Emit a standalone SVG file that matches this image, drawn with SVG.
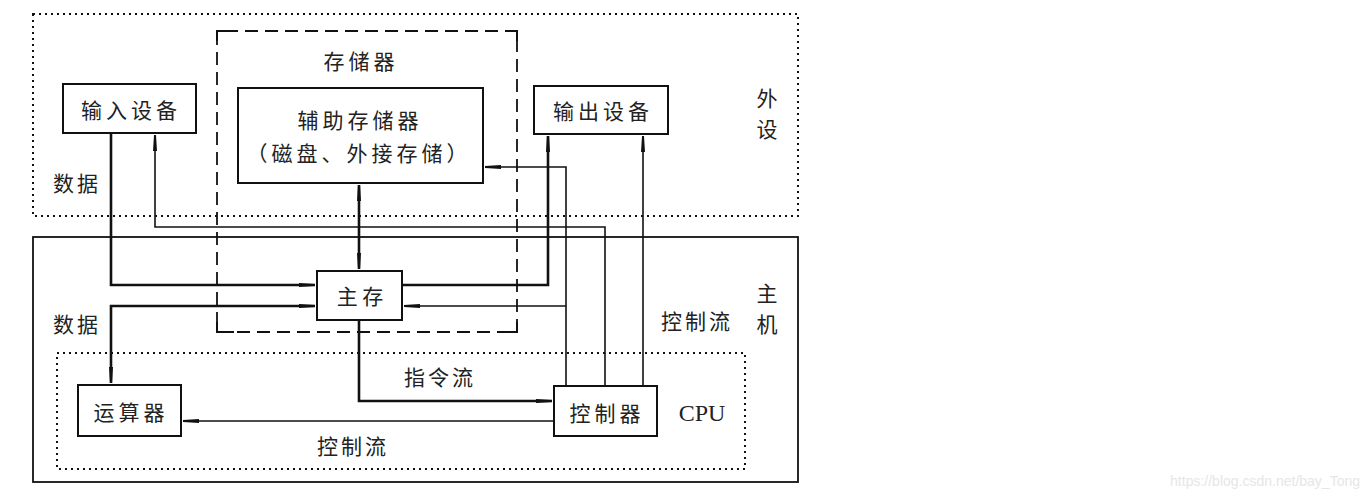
<svg xmlns="http://www.w3.org/2000/svg" width="1371" height="499" viewBox="0 0 1371 499">
<defs>
<marker id="ah" markerUnits="userSpaceOnUse" markerWidth="18" markerHeight="6" refX="16" refY="3" orient="auto">
<path d="M0,1 L16,2 L16,4 L0,5 z" fill="#111"/>
</marker>
<marker id="ahs" markerUnits="userSpaceOnUse" markerWidth="18" markerHeight="6" refX="0" refY="3" orient="auto">
<path d="M16,1 L0,2 L0,4 L16,5 z" fill="#111"/>
</marker>
</defs>
<style>
.node{fill:#fff;stroke:#111;stroke-width:2}
.t{font-family:"Noto Sans CJK SC","Noto Sans",sans-serif;font-size:21px;fill:#222;text-anchor:middle;dominant-baseline:central}
.sp{letter-spacing:4px}
.dot{fill:none;stroke:#111;stroke-width:2;stroke-dasharray:2 4}
.thick{fill:none;stroke:#111;stroke-width:2.6}
.thin{fill:none;stroke:#111;stroke-width:1.6}
</style>
<rect width="1371" height="499" fill="#fff"/>

<g id="peripherals">
<rect class="dot" x="33" y="14" width="765" height="202"/>
<text class="t" x="767" y="97">外<tspan x="767" dy="31">设</tspan></text>
</g>

<g id="host">
<rect x="33" y="237" width="765" height="245" fill="none" stroke="#111" stroke-width="1.8"/>
<text class="t" x="767" y="292">主<tspan x="767" dy="31">机</tspan></text>
</g>

<g id="cpu">
<rect class="dot" x="57" y="353" width="688" height="116"/>
<text x="702" y="413" font-family="Liberation Serif,serif" font-size="24" fill="#222" text-anchor="middle" dominant-baseline="central">CPU</text>
</g>

<g id="storage">
<rect x="217" y="31" width="300" height="301" fill="none" stroke="#111" stroke-width="1.8" stroke-dasharray="13 7" stroke-dashoffset="-8"/>
<path d="M217,41 V31 H227 M507,31 H517 V41 M217,322 V332 H234 M500,332 H517 V322" fill="none" stroke="#111" stroke-width="2"/>
<text class="t sp" x="361" y="60">存储器</text>
</g>

<g id="connectors">
<path class="thick" d="M111,133 V285 H315" marker-end="url(#ah)"/>
<path class="thin" d="M605,386 V227 H155 V135" marker-end="url(#ah)"/>
<path class="thick" d="M359,185 V269" marker-start="url(#ahs)" marker-end="url(#ah)"/>
<path class="thin" d="M566,386 V167 H485" marker-end="url(#ah)"/>
<path class="thin" d="M566,306 H404" marker-end="url(#ah)"/>
<path class="thick" d="M402,285 H548 V136" marker-end="url(#ah)"/>
<path class="thin" d="M643,386 V136" marker-end="url(#ah)"/>
<path class="thick" d="M315,306 H111 V383" marker-start="url(#ahs)" marker-end="url(#ah)"/>
<path class="thick" d="M359,320 V401 H552" marker-end="url(#ah)"/>
<path class="thin" d="M554,421 H183" marker-end="url(#ah)"/>
<text class="t" x="77" y="182" letter-spacing="3">数据</text>
<text class="t" x="77" y="323" letter-spacing="3">数据</text>
<text class="t" x="697" y="320" letter-spacing="3">控制流</text>
<text class="t" x="440" y="376" letter-spacing="3">指令流</text>
<text class="t" x="353" y="445" letter-spacing="3">控制流</text>
</g>

<g id="input">
<rect class="node" x="63" y="84" width="133" height="49"/>
<text class="t sp" x="131" y="109">输入设备</text>
</g>

<g id="aux">
<rect class="node" x="238" y="88" width="245" height="95"/>
<text class="t sp" x="360" y="119">辅助存储器</text>
<text class="t sp" x="359" y="152">（磁盘、外接存储）</text>
</g>

<g id="output">
<rect class="node" x="534" y="86" width="134" height="48"/>
<text class="t sp" x="603" y="110">输出设备</text>
</g>

<g id="mainmem">
<rect class="node" x="317" y="271" width="85" height="49"/>
<text class="t" x="360" y="295" xml:space="preserve">主 存</text>
</g>

<g id="alu">
<rect class="node" x="78" y="385" width="103" height="51"/>
<text class="t sp" x="131" y="411">运算器</text>
</g>

<g id="controller">
<rect class="node" x="554" y="386" width="103" height="50"/>
<text class="t sp" x="607" y="412">控制器</text>
</g>

<text x="1360" y="481" font-family="Liberation Sans,Arial,sans-serif" font-size="14" fill="#e6e6e6" text-anchor="end" dominant-baseline="central">https://blog.csdn.net/bay_Tong</text>
</svg>
